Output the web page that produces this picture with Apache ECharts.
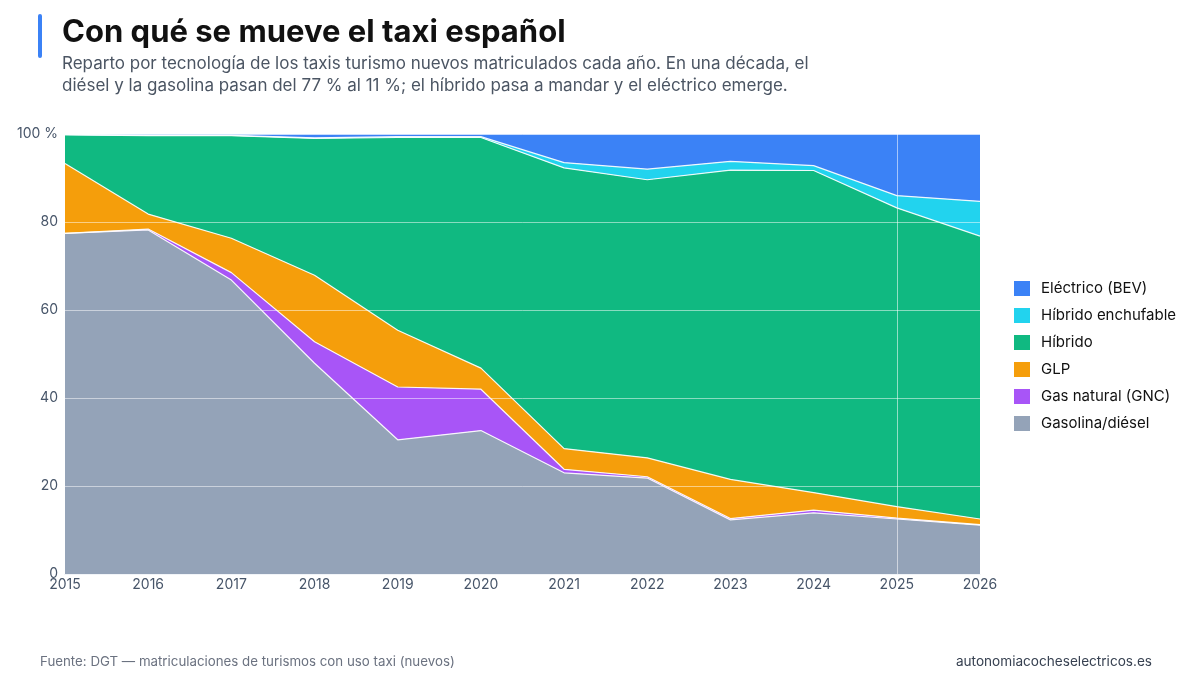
<!DOCTYPE html>
<html lang="es">
<head>
    <meta charset="UTF-8">
    <title>Con qué se mueve el taxi español</title>
    <style>
        html, body { margin: 0; padding: 0; background: #fff; }
        #chart { width: 1200px; height: 684px; }
    </style>
</head>
<body>
    <div id="chart"></div>

    <script src="https://cdn.jsdelivr.net/npm/echarts@6/dist/echarts.min.js"></script>
    <script>
        // datos: % de taxis turismo nuevos por tecnología
        var years = ['2015', '2016', '2017', '2018', '2019', '2020', '2021', '2022', '2023', '2024', '2025', '2026'];
        var gasolina = [77.4, 78.2, 66.8, 47.9, 30.5, 32.6, 23.0, 21.8, 12.3, 13.9, 12.5, 11.1];
        var gnc      = [0.0, 0.2, 1.7, 4.9, 12.0, 9.4, 0.8, 0.3, 0.3, 0.6, 0.2, 0.1];
        var glp      = [15.9, 3.4, 7.8, 15.1, 12.9, 4.8, 4.7, 4.3, 8.9, 4.0, 2.6, 1.3];
        var hibrido  = [6.5, 17.8, 23.3, 31.1, 43.8, 52.4, 63.8, 63.2, 70.3, 73.2, 67.9, 64.3];
        var phev     = [0.1, 0.1, 0.1, 0.1, 0.2, 0.2, 1.2, 2.4, 2.0, 1.1, 2.8, 7.9];
        var bev      = [0.1, 0.3, 0.3, 0.9, 0.6, 0.6, 6.5, 8.0, 6.2, 7.2, 14.0, 15.3];
        var yTicks = [0, 20, 40, 60, 80, 100];

        var font = 'Inter, "Noto Sans", sans-serif';
        var myChart = echarts.init(document.getElementById('chart'));

        function area(name, data, color) {
            return {
                name: name,
                type: 'line',
                stack: 'total',
                data: data,
                showSymbol: false,
                symbol: 'none',
                lineStyle: { color: 'rgba(255,255,255,0.9)', width: 1.2 },
                areaStyle: { color: color, opacity: 1 },
                itemStyle: { color: color },
                emphasis: { disabled: true }
            };
        }

        var series = [
            area('Gasolina/diésel', gasolina, '#94a3b8'),
            area('Gas natural (GNC)', gnc, '#a855f7'),
            area('GLP', glp, '#f59e0b'),
            area('Híbrido', hibrido, '#10b981'),
            area('Híbrido enchufable', phev, '#22d3ee'),
            area('Eléctrico (BEV)', bev, '#3b82f6')
        ];
        // línea vertical en 2025
        series[5].markLine = {
            silent: true,
            symbol: 'none',
            label: { show: false },
            lineStyle: { color: 'rgba(255,255,255,0.55)', width: 1, type: 'solid' },
            data: [{ xAxis: '2025' }]
        };

        myChart.setOption({
            animation: false,
            textStyle: { fontFamily: font },
            graphic: [
                { type: 'rect', left: 38, top: 14, shape: { width: 4, height: 44, r: 2 }, style: { fill: '#3b82f6' } },
                { type: 'text', left: 62, top: 17, style: { text: 'Con qué se mueve el taxi español', font: 'bold 31px ' + font, fill: '#111111' } },
                { type: 'text', left: 62, top: 53, style: {
                    text: 'Reparto por tecnología de los taxis turismo nuevos matriculados cada año. En una década, el\ndiésel y la gasolina pasan del 77 % al 11 %; el híbrido pasa a mandar y el eléctrico emerge.',
                    font: '17px ' + font, fill: '#4b5563', lineHeight: 22 } },
                { type: 'text', left: 40, top: 655, style: { text: 'Fuente: DGT — matriculaciones de turismos con uso taxi (nuevos)', font: '13.3px ' + font, fill: '#6b7280' } },
                { type: 'text', right: 48, top: 655, style: { text: 'autonomiacocheselectricos.es', font: '13.6px ' + font, fill: '#374151' } }
            ],
            legend: {
                orient: 'vertical',
                left: 1009,
                top: 276,
                itemWidth: 16,
                itemHeight: 15,
                itemGap: 12,
                icon: 'rect',
                data: ['Eléctrico (BEV)', 'Híbrido enchufable', 'Híbrido', 'GLP', 'Gas natural (GNC)', 'Gasolina/diésel'],
                textStyle: { fontSize: 15, color: '#111111', fontFamily: font, padding: [0, 0, 0, 6] }
            },
            grid: { left: 65, right: 220, top: 134, bottom: 110 },
            xAxis: {
                type: 'category',
                boundaryGap: false,
                data: years,
                axisLine: { lineStyle: { color: '#e2e8f0' } },
                axisTick: { show: false },
                axisLabel: { color: '#475569', fontSize: 14, margin: 4 },
                splitLine: { show: false }
            },
            yAxis: {
                type: 'value',
                min: yTicks[0],
                max: yTicks[yTicks.length - 1],
                interval: 20,
                z: 10,
                axisLine: { show: false },
                axisTick: { show: false },
                axisLabel: {
                    color: '#475569', fontSize: 14, margin: 7,
                    formatter: function (v) { return v === 100 ? '100 %' : v; }
                },
                splitLine: { lineStyle: { color: 'rgba(255,255,255,0.5)', width: 1 } }
            },
            series: series
        });
    </script>
</body>
</html>
